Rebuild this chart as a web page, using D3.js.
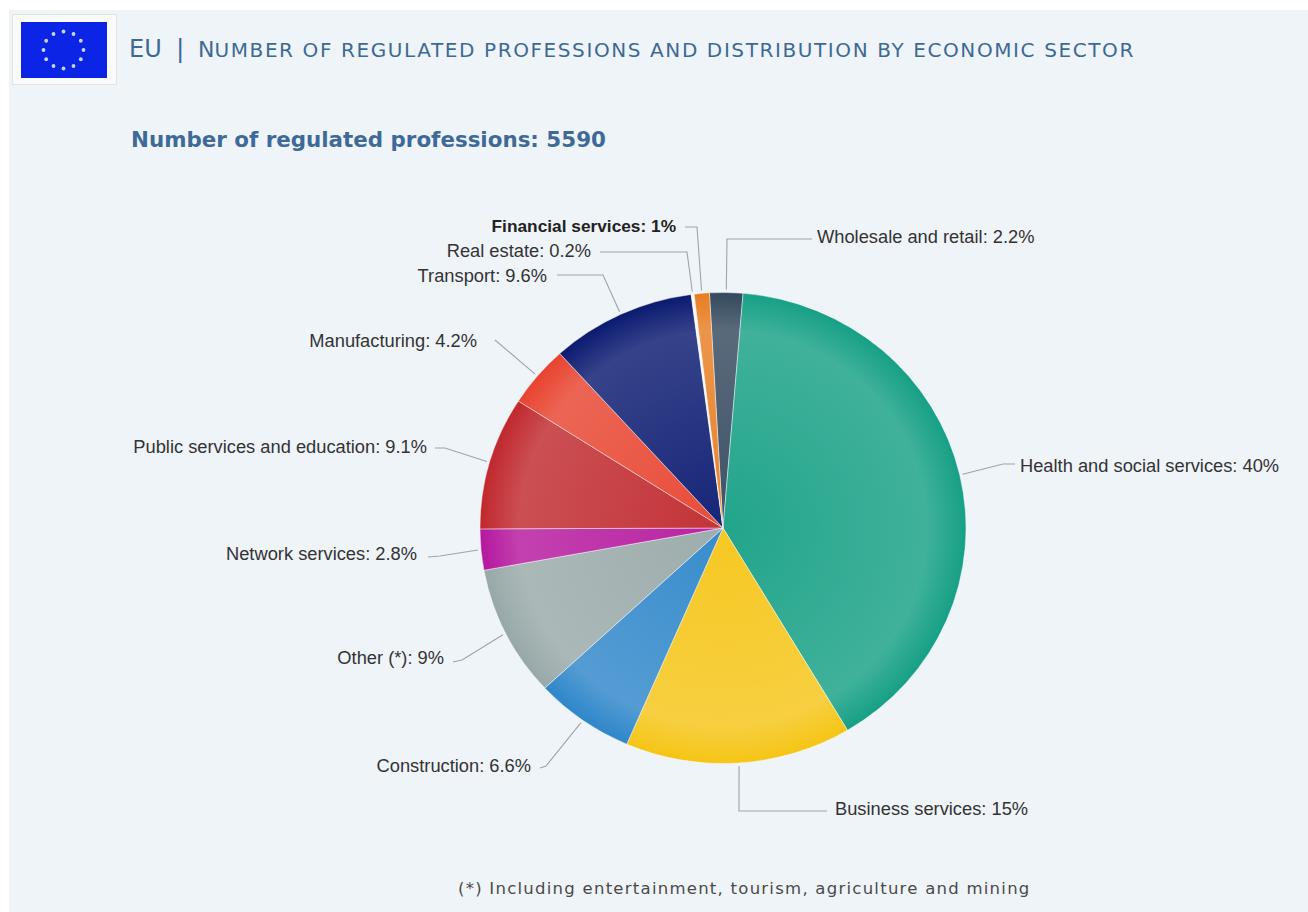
<!DOCTYPE html>
<html>
<head>
<meta charset="utf-8">
<style>
  html, body { margin: 0; padding: 0; background: #ffffff; }
  svg { display: block; }
</style>
<script src="https://cdn.jsdelivr.net/npm/d3@7/dist/d3.min.js"></script>
</head>
<body>
<svg id="chart" width="1308" height="912"></svg>
<script>
// Sectors in clockwise order, starting at the wholesale slice
const sectors = ["Wholesale and retail", "Health and social services", "Business services", "Construction", "Other (*)", "Network services", "Public services and education", "Manufacturing", "Transport", "Real estate", "Financial services"];
const shares = [2.2, 40, 15, 6.6, 9, 2.8, 9.1, 4.2, 9.6, 0.2, 1];
const shareLabels = ["2.2%", "40%", "15%", "6.6%", "9%", "2.8%", "9.1%", "4.2%", "9.6%", "0.2%", "1%"];
const sliceColors = ["#34495e", "#16a085", "#f5c516", "#2e86c9", "#98a8a8", "#b5179e", "#c0282d", "#e8432f", "#0a1a70", "#f8f8f8", "#e67e22"];
const titleText = "NUMBER OF REGULATED PROFESSIONS AND DISTRIBUTION BY ECONOMIC SECTOR";
const subtitleText = "Number of regulated professions: 5590";
const footnoteText = "(*) Including entertainment, tourism, agriculture and mining";

const svg = d3.select("#chart");
const LABEL_FONT = "'Liberation Sans', Arial, sans-serif";
const HEAD_FONT = "'DejaVu Sans', Verdana, sans-serif";

// Panel behind everything
svg.append("rect").attr("x", 9).attr("y", 10).attr("width", 1299).attr("height", 902).attr("fill", "#eff4f9");

// Flag badge
const badge = svg.append("g");
badge.append("rect").attr("x", 12.5).attr("y", 14.5).attr("width", 104).attr("height", 70)
  .attr("fill", "#f8fafb").attr("stroke", "#e6e4d8");
badge.append("rect").attr("x", 21).attr("y", 22).attr("width", 86).attr("height", 56).attr("fill", "#0b24e6");
const starAngles = d3.range(12).map(i => i * 30);
badge.selectAll("circle").data(starAngles).join("circle")
  .attr("cx", d => 63.5 + 20 * Math.sin(d * Math.PI / 180))
  .attr("cy", d => 50 - 18.5 * Math.cos(d * Math.PI / 180))
  .attr("r", 1.9).attr("fill", "#c9d6e8");

// Headings
const heading = svg.append("text").attr("x", 129).attr("y", 57)
  .attr("font-family", HEAD_FONT).attr("fill", "#3d6a94");
heading.append("tspan").attr("font-size", 24).text("EU");
heading.append("tspan").attr("font-size", 25).attr("x", 176).text("|");
heading.append("tspan").attr("font-size", 22).attr("x", 198).text(titleText[0]);
heading.append("tspan").attr("font-size", 20).attr("letter-spacing", 1.6).text(titleText.slice(1));

svg.append("text").attr("x", 131).attr("y", 147)
  .attr("font-family", HEAD_FONT).attr("font-weight", "bold").attr("font-size", 21.4)
  .attr("fill", "#3f6a98").text(subtitleText);

svg.append("text").attr("x", 458).attr("y", 894)
  .attr("font-family", HEAD_FONT).attr("font-size", 16.5).attr("letter-spacing", 1.25)
  .attr("fill", "#4a4a4a").text(footnoteText);

// Pie: the drawing is a little wider than it is tall
const cx = 723, cy = 528, radius = 243, yScale = 235.5 / 243;
const pieLayout = d3.pie().sort(null).value(d => d)
  .startAngle(-3.2 * Math.PI / 180).endAngle((360 - 3.2) * Math.PI / 180);
const arcs = pieLayout(shares);
const arcPath = d3.arc().innerRadius(0).outerRadius(radius);

const defs = svg.append("defs");
sliceColors.forEach((c, i) => {
  const base = d3.color(c);
  const g = defs.append("radialGradient").attr("id", "slice" + i)
    .attr("gradientUnits", "userSpaceOnUse").attr("cx", 0).attr("cy", 0).attr("r", radius);
  g.append("stop").attr("offset", "0%").attr("stop-color", d3.interpolateRgb(c, "#ffffff")(0.05));
  g.append("stop").attr("offset", "84%").attr("stop-color", d3.interpolateRgb(c, "#ffffff")(0.18));
  g.append("stop").attr("offset", "100%").attr("stop-color", base.formatHex());
});

const pieGroup = svg.append("g").attr("transform", `translate(${cx},${cy}) scale(1,${yScale})`);
pieGroup.selectAll("path").data(arcs).join("path")
  .attr("d", arcPath)
  .attr("fill", (d, i) => `url(#slice${i})`)
  .attr("stroke", "#ffffff").attr("stroke-opacity", 0.45).attr("stroke-width", 1)
  .attr("stroke-linejoin", "round");

// Label placement, one entry per sector in the same order as the arrays above
const labelX = [817, 1020, 835, 531, 444, 417, 427, 477, 547, 591, 676];
const labelY = [243, 472, 815, 772, 664, 560, 453, 347, 282, 257, 232];
const anchors = ["start", "start", "start", "end", "end", "end", "end", "end", "end", "end", "end"];
// Leader routes: slice edge, then knee, then the end next to the label
const kneeX = [727, 1003, 739, 546, 462, 440, 445, 495, 603, 687, 697];
const kneeY = [239, 464, 811, 766, 660, 556, 448, 340, 275, 252, 227];
const tailX = [812, 1015, 827, 540, 453, 428, 435, 495, 557, 600, 685];
const tailY = [239, 464, 811, 768, 662, 557, 448, 340, 275, 252, 227];

const leaders = svg.append("g").attr("fill", "none").attr("stroke", "#9aa5ad").attr("stroke-width", 1.1);
arcs.forEach((a, i) => {
  const mid = (a.startAngle + a.endAngle) / 2;
  const edgeX = cx + (radius + 3) * Math.sin(mid);
  const edgeY = cy - (radius + 3) * yScale * Math.cos(mid);
  leaders.append("path").attr("d", d3.line()([
    [edgeX, edgeY], [kneeX[i], kneeY[i]], [tailX[i], tailY[i]]
  ]));
});

svg.append("g").selectAll("text").data(arcs).join("text")
  .attr("x", (d, i) => labelX[i]).attr("y", (d, i) => labelY[i])
  .attr("text-anchor", (d, i) => anchors[i])
  .attr("font-family", LABEL_FONT)
  .attr("font-size", (d, i) => i === 10 ? 17.3 : 18.3)
  .attr("fill", (d, i) => i === 10 ? "#222222" : "#333333")
  .attr("font-weight", (d, i) => i === 10 ? "bold" : "normal")
  .text((d, i) => `${sectors[i]}: ${shareLabels[i]}`);
</script>
</body>
</html>
